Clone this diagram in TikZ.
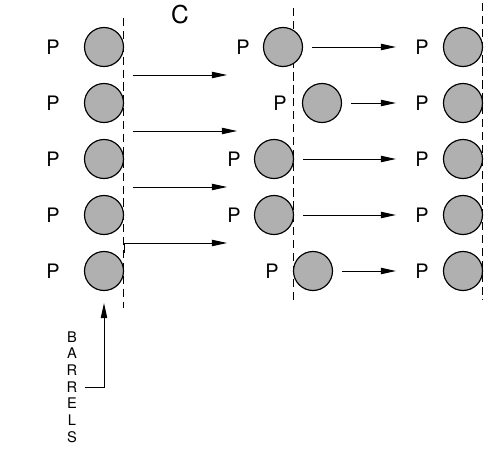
\documentclass[tikz,border=0pt]{standalone}
\usepackage{fontspec}
\setsansfont{TeX Gyre Heros}
\usetikzlibrary{arrows.meta,positioning}

\begin{document}
\begin{tikzpicture}[
    x=0.03cm, y=-0.03cm,
    font=\sffamily,
    barrel/.style={
      circle, draw, line width=1pt,
      fill=gray!62, minimum size=1.17cm, inner sep=0pt
    },
    plabel/.style={font=\sffamily\fontsize{17}{20}\selectfont, inner sep=1pt},
    wall/.style={dashed, dash pattern=on 7pt off 4pt, line width=0.8pt},
    arr/.style={-{Triangle[length=0.45cm, width=0.19cm]}, line width=0.8pt},
  ]
  \useasboundingbox (0,0) rectangle (491,450);

  %% ── Title ────────────────────────────────────────────────
  \node[font=\sffamily\fontsize{21}{24}\selectfont] (title) at (180,15) {C};

  %% ── Walls ────────────────────────────────────────────────
  \draw[wall] (123,18) -- (123,308);
  \draw[wall] (293,8)  -- (293,300);
  \draw[wall] (482,3)  -- (482,300);

  %% ── Left column ──────────────────────────────────────────
  \node[plabel] (lp1) at (53,47)  {P};  \node[barrel] (lb1) at (104,47)  {};
  \node[plabel] (lp2) at (53,103) {P};  \node[barrel] (lb2) at (104,103) {};
  \node[plabel] (lp3) at (53,159) {P};  \node[barrel] (lb3) at (104,159) {};
  \node[plabel] (lp4) at (53,215) {P};  \node[barrel] (lb4) at (104,215) {};
  \node[plabel] (lp5) at (53,271) {P};  \node[barrel] (lb5) at (104,271) {};

  %% ── Middle column ────────────────────────────────────────
  \node[plabel] (mp1) at (243,47)  {P};  \node[barrel] (mb1) at (283,47)  {};
  \node[plabel] (mp2) at (280,103) {P};  \node[barrel] (mb2) at (322,103) {};
  \node[plabel] (mp3) at (234,159) {P};  \node[barrel] (mb3) at (274,159) {};
  \node[plabel] (mp4) at (234,215) {P};  \node[barrel] (mb4) at (274,215) {};
  \node[plabel] (mp5) at (272,271) {P};  \node[barrel] (mb5) at (313,271) {};

  %% ── Right column ─────────────────────────────────────────
  \node[plabel] (rp1) at (422,47)  {P};  \node[barrel] (rb1) at (463,47)  {};
  \node[plabel] (rp2) at (422,103) {P};  \node[barrel] (rb2) at (463,103) {};
  \node[plabel] (rp3) at (422,159) {P};  \node[barrel] (rb3) at (463,159) {};
  \node[plabel] (rp4) at (422,215) {P};  \node[barrel] (rb4) at (463,215) {};
  \node[plabel] (rp5) at (422,271) {P};  \node[barrel] (rb5) at (463,271) {};

  %% ── Barrels label ────────────────────────────────────────
  \node[font=\sffamily\fontsize{12.5}{14.2}\selectfont, align=center]
    (barrels) at (72,387) {B\\A\\R\\R\\E\\L\\S};

  %% ── Arrows: left -> middle ───────────────────────────────
  \coordinate (s1) at (133,75);   \coordinate (e1) at (227,75);
  \coordinate (s2) at (133,131);  \coordinate (e2) at (237,131);
  \coordinate (s3) at (133,187);  \coordinate (e3) at (227,187);
  \coordinate (s4) at (124,253);  \coordinate (e4) at (227,243);
  \draw[arr] (s1) -- (e1);
  \draw[arr] (s2) -- (e2);
  \draw[arr] (s3) -- (e3);
  \draw[arr] (s4) |- (e4);

  %% ── Arrows: middle -> right ──────────────────────────────
  \draw[arr, shorten <=0.27cm, shorten >=0.54cm] (mb1.east) -- (rp1.west);
  \draw[arr, shorten <=0.27cm, shorten >=0.54cm] (mb2.east) -- (rp2.west);
  \draw[arr, shorten <=0.27cm, shorten >=0.54cm] (mb3.east) -- (rp3.west);
  \draw[arr, shorten <=0.27cm, shorten >=0.54cm] (mb4.east) -- (rp4.west);
  \draw[arr, shorten <=0.27cm, shorten >=0.54cm] (mb5.east) -- (rp5.west);

  %% ── Arrow: barrels label -> bottom barrel ────────────────
  \draw[arr, shorten <=0.12cm, shorten >=0.36cm] (barrels.east) -| (lb5.south);

\end{tikzpicture}
\end{document}
